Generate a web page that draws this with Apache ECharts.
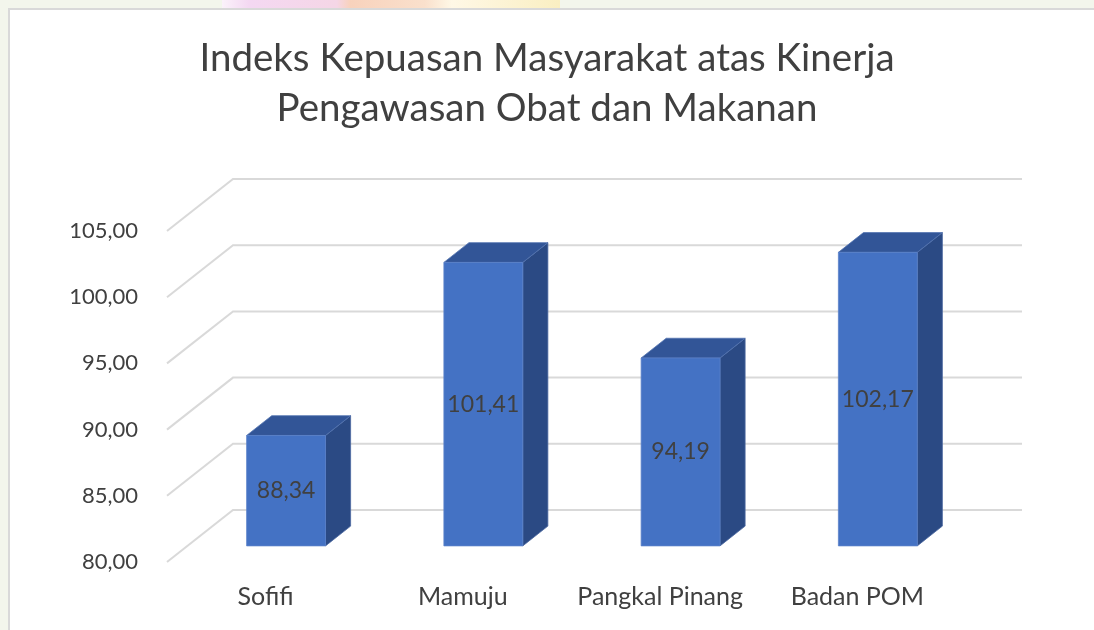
<!DOCTYPE html>
<html>
<head>
<meta charset="utf-8">
<script src="https://cdn.jsdelivr.net/npm/echarts@6/dist/echarts.min.js"></script>
<style>
html,body{margin:0;padding:0;background:#F3F6EC;}
#chart{width:1094px;height:630px;}
</style>
</head>
<body>
<div id="chart"></div>
<script>
const categories = ['Sofifi', 'Mamuju', 'Pangkal Pinang', 'Badan POM'];
const values = [88.34, 101.41, 94.19, 102.17];
const yTicks = [80, 85, 90, 95, 100, 105];
const titleText = 'Indeks Kepuasan Masyarakat atas Kinerja\nPengawasan Obat dan Makanan';

const FONT = 'Lato, "Open Sans", sans-serif';
const DX = 66, DY = -52;      // depth vector of the 3D box
const F0 = 0.31, F1 = 0.69;   // bar front / back depth fractions
const BAR_FRAC = 0.40;        // bar width as fraction of category band
const fmt = v => v.toFixed(2).replace('.', ',');

const chart = echarts.init(document.getElementById('chart'));
chart.setOption({
  backgroundColor: '#F3F6EC',
  animation: false,
  graphic: [
    { type: 'rect', z: 0, shape: { x: 9, y: 9, width: 1100, height: 640 },
      style: { fill: '#FFFFFF', stroke: '#D9D9D9', lineWidth: 2 } },
    { type: 'rect', z: 0, shape: { x: 222, y: 0, width: 338, height: 8 },
      style: { fill: new echarts.graphic.LinearGradient(0, 0, 1, 0, [
        { offset: 0, color: '#FBF2FA' }, { offset: 0.08, color: '#F4D8F2' },
        { offset: 0.34, color: '#F5D6E6' }, { offset: 0.38, color: '#F8D2BC' },
        { offset: 0.6, color: '#FAE0CC' }, { offset: 0.68, color: '#FFF8E6' },
        { offset: 1, color: '#FAEFC2' } ]) } }
  ],
  title: {
    text: titleText,
    left: 'center',
    top: 29,
    textStyle: { fontFamily: FONT, fontSize: 38.5, fontWeight: 'normal', color: '#404040', lineHeight: 50 }
  },
  grid: { left: 167, right: 138, top: 231, bottom: 68 },
  xAxis: {
    type: 'category',
    data: categories,
    axisLine: { show: false },
    axisTick: { show: false },
    axisLabel: { fontFamily: FONT, fontSize: 25, color: '#404040', margin: 22, interval: 0, hideOverlap: false }
  },
  yAxis: {
    type: 'value',
    min: 80, max: 105, interval: 5,
    axisLine: { show: false },
    axisTick: { show: false },
    splitLine: { show: false },
    axisLabel: { fontFamily: FONT, fontSize: 22, color: '#404040', margin: 29, formatter: fmt }
  },
  series: [
    {
      type: 'custom',
      name: 'wall',
      silent: true,
      data: yTicks.map(v => [0, v]),
      encode: { x: 0, y: 1 },
      renderItem: function (params, api) {
        const cs = params.coordSys;
        const y = api.coord([0, api.value(1)])[1];
        const x0 = cs.x, x1 = cs.x + cs.width;
        return {
          type: 'polyline',
          shape: { points: [[x0, y], [x0 + DX, y + DY], [x1 + DX, y + DY]] },
          style: { stroke: '#D9D9D9', lineWidth: 2, fill: null }
        };
      }
    },
    {
      type: 'custom',
      name: 'bars',
      data: values.map((v, i) => [i, v]),
      encode: { x: 0, y: 1 },
      renderItem: function (params, api) {
        const i = api.value(0), v = api.value(1);
        const top = api.coord([i, v]);
        const base = api.coord([i, 80]);
        const band = api.size([1, 0])[0];
        const w = band * BAR_FRAC;
        const fx = top[0] - w / 2 + DX * F0, fyT = top[1] + DY * F0, fyB = base[1] + DY * F0;
        const bx = DX * (F1 - F0), by = DY * (F1 - F0);
        const front = [[fx, fyT], [fx + w, fyT], [fx + w, fyB], [fx, fyB]];
        const topFace = [[fx, fyT], [fx + w, fyT], [fx + w + bx, fyT + by], [fx + bx, fyT + by]];
        const side = [[fx + w, fyT], [fx + w + bx, fyT + by], [fx + w + bx, fyB + by], [fx + w, fyB]];
        return {
          type: 'group',
          children: [
            { type: 'polygon', shape: { points: side }, style: { fill: '#2B4A84', stroke: '#4A67A0', lineWidth: 0.8 } },
            { type: 'polygon', shape: { points: topFace }, style: { fill: '#325597', stroke: '#5373B0', lineWidth: 0.8 } },
            { type: 'polygon', shape: { points: front }, style: { fill: '#4472C4', stroke: '#5B82C9', lineWidth: 0.8 } },
            { type: 'text', style: { text: fmt(v), x: fx + w / 2, y: (fyT + fyB) / 2,
                align: 'center', verticalAlign: 'middle', fill: '#404040',
                fontFamily: FONT, fontSize: 23 } }
          ]
        };
      }
    }
  ]
});
</script>
</body>
</html>
